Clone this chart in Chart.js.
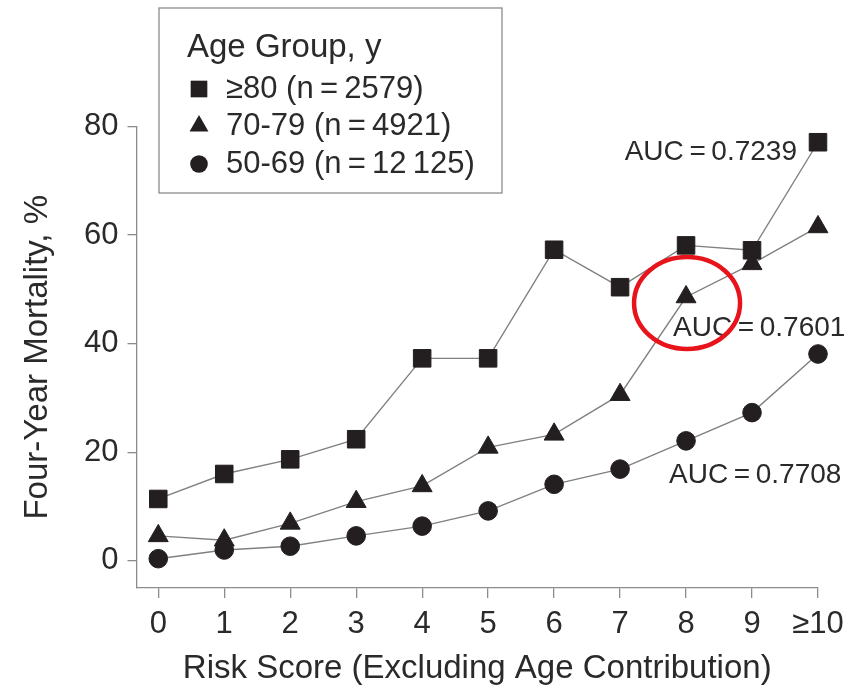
<!DOCTYPE html>
<html>
<head>
<meta charset="utf-8">
<script src="https://cdn.jsdelivr.net/npm/chart.js@4/dist/chart.umd.min.js"></script>
<style>
  body { margin: 0; background: #fff; }
</style>
</head>
<body>
<canvas id="mortality" width="856" height="689"></canvas>
<script>
// Data
const categories = ['0', '1', '2', '3', '4', '5', '6', '7', '8', '9', '≥10'];
const yTicks = [0, 20, 40, 60, 80];
const ageGroups = ['≥80 (n\u2009=\u20092579)', '70-79 (n\u2009=\u20094921)', '50-69 (n\u2009=\u200912\u2009125)'];
const age80 = [11.4, 16.0, 18.7, 22.4, 37.3, 37.3, 57.3, 50.4, 58.1, 57.2, 77.1];
const age70 = [4.6, 3.8, 6.9, 10.9, 13.8, 20.9, 23.3, 30.6, 48.6, 54.7, 61.5];
const age50 = [0.4, 2.0, 2.7, 4.6, 6.4, 9.2, 14.1, 16.9, 22.1, 27.3, 38.1];
const aucLabels = ['AUC\u2009=\u20090.7239', 'AUC\u2009=\u20090.7601', 'AUC\u2009=\u20090.7708'];

// Styles
const FONT = "'Liberation Sans', Arial, Helvetica, sans-serif";
const TEXT = '#2a2a2a';
const AXIS = '#8c8c8c';
const LINE = '#808080';
const MARK = '#231f20';

function toPoints(values) {
    return values.map((v, i) => ({ x: i, y: v }));
}

function makeSeries(label, values, style, radius) {
    return {
        label: label,
        data: toPoints(values),
        borderColor: LINE,
        borderWidth: 1.4,
        pointStyle: style,
        pointRadius: radius,
        pointBackgroundColor: MARK,
        pointBorderColor: MARK,
        pointBorderWidth: 1,
        tension: 0,
        clip: false
    };
}

function drawMarker(ctx, style, x, y, r) {
    ctx.beginPath();
    if (style === 'rect') {
        const s = r * Math.SQRT1_2;
        ctx.rect(x - s, y - s, 2 * s, 2 * s);
    } else if (style === 'triangle') {
        ctx.moveTo(x, y - r);
        ctx.lineTo(x + r * 0.866, y + r / 2);
        ctx.lineTo(x - r * 0.866, y + r / 2);
        ctx.closePath();
    } else {
        ctx.arc(x, y, r, 0, Math.PI * 2);
    }
    ctx.fillStyle = MARK;
    ctx.fill();
}

// Legend box in the upper left corner
const legendBox = {
    id: 'legendBox',
    afterDraw(chart) {
        const ctx = chart.ctx;
        ctx.save();
        ctx.fillStyle = '#fff';
        ctx.fillRect(159, 8, 343, 185);
        ctx.strokeStyle = AXIS;
        ctx.lineWidth = 1.3;
        ctx.strokeRect(159, 8, 343, 185);

        ctx.fillStyle = TEXT;
        ctx.textBaseline = 'middle';
        ctx.textAlign = 'left';
        ctx.font = '33px ' + FONT;
        ctx.fillText('Age Group, y', 187, 48);

        ctx.font = '31px ' + FONT;
        const rows = [89, 126, 164];
        chart.data.datasets.forEach((ds, i) => {
            drawMarker(ctx, ds.pointStyle, 199, rows[i], ds.pointRadius * 0.95);
            ctx.fillStyle = TEXT;
            ctx.fillText(ds.label, 226, rows[i]);
        });
        ctx.restore();
    }
};

// AUC labels and the red ring, placed from the data points
const annotations = {
    id: 'annotations',
    afterDatasetsDraw(chart) {
        const ctx = chart.ctx;
        const at = (ds, i) => chart.getDatasetMeta(ds).data[i];
        ctx.save();
        ctx.fillStyle = TEXT;
        ctx.font = '28px ' + FONT;
        ctx.textBaseline = 'middle';

        const p0 = at(0, 10);
        ctx.textAlign = 'right';
        ctx.fillText(aucLabels[0], p0.x - 21, p0.y + 10);

        const p1 = at(1, 8);
        ctx.textAlign = 'left';
        ctx.fillText(aucLabels[1], p1.x - 13, p1.y + 31);

        const p2 = at(2, 8);
        ctx.fillText(aucLabels[2], p2.x - 17, p2.y + 34);

        ctx.beginPath();
        ctx.ellipse(p1.x + 1, p1.y + 6, 53, 46, 0, 0, Math.PI * 2);
        ctx.strokeStyle = '#e8141b';
        ctx.lineWidth = 4.5;
        ctx.stroke();
        ctx.restore();
    }
};

const chart = new Chart(document.querySelector('#mortality'), {
    type: 'line',
    data: {
        datasets: [
            makeSeries(ageGroups[0], age80, 'rect', 12.4),
            makeSeries(ageGroups[1], age70, 'triangle', 11.5),
            makeSeries(ageGroups[2], age50, 'circle', 9.3)
        ]
    },
    options: {
        responsive: false,
        animation: false,
        layout: {
            padding: { top: 126.5, right: 38, bottom: 0, left: 0 }
        },
        plugins: {
            legend: { display: false },
            tooltip: { enabled: false }
        },
        scales: {
            x: {
                type: 'linear',
                min: -0.33,
                max: 10,
                afterBuildTicks: (scale) => {
                    scale.ticks = categories.map((_, i) => ({ value: i }));
                },
                afterFit: (scale) => { scale.height = 101; },
                border: { display: true, color: AXIS, width: 1.3 },
                grid: { drawOnChartArea: false, drawTicks: true, tickLength: 10, color: AXIS, lineWidth: 1.3 },
                ticks: {
                    autoSkip: false,
                    maxRotation: 0,
                    padding: 8,
                    color: TEXT,
                    font: { family: FONT, size: 31 },
                    callback: (value) => categories[value]
                },
                title: {
                    display: true,
                    text: 'Risk Score (Excluding Age Contribution)',
                    color: TEXT,
                    font: { family: FONT, size: 33, lineHeight: 1.2 },
                    padding: { top: 0, bottom: 0 }
                }
            },
            y: {
                min: -5,
                max: 80,
                afterBuildTicks: (scale) => {
                    scale.ticks = yTicks.map(v => ({ value: v }));
                },
                afterFit: (scale) => { scale.width = 136.5; },
                border: { display: true, color: AXIS, width: 1.3 },
                grid: { drawOnChartArea: false, drawTicks: true, tickLength: 9, color: AXIS, lineWidth: 1.3 },
                ticks: {
                    padding: 9,
                    color: TEXT,
                    font: { family: FONT, size: 31 }
                },
                title: {
                    display: true,
                    text: 'Four-Year Mortality, %',
                    color: TEXT,
                    font: { family: FONT, size: 33, lineHeight: 1.2 },
                    padding: { top: 18, bottom: 0 }
                }
            }
        }
    },
    plugins: [annotations, legendBox]
});
</script>
</body>
</html>
